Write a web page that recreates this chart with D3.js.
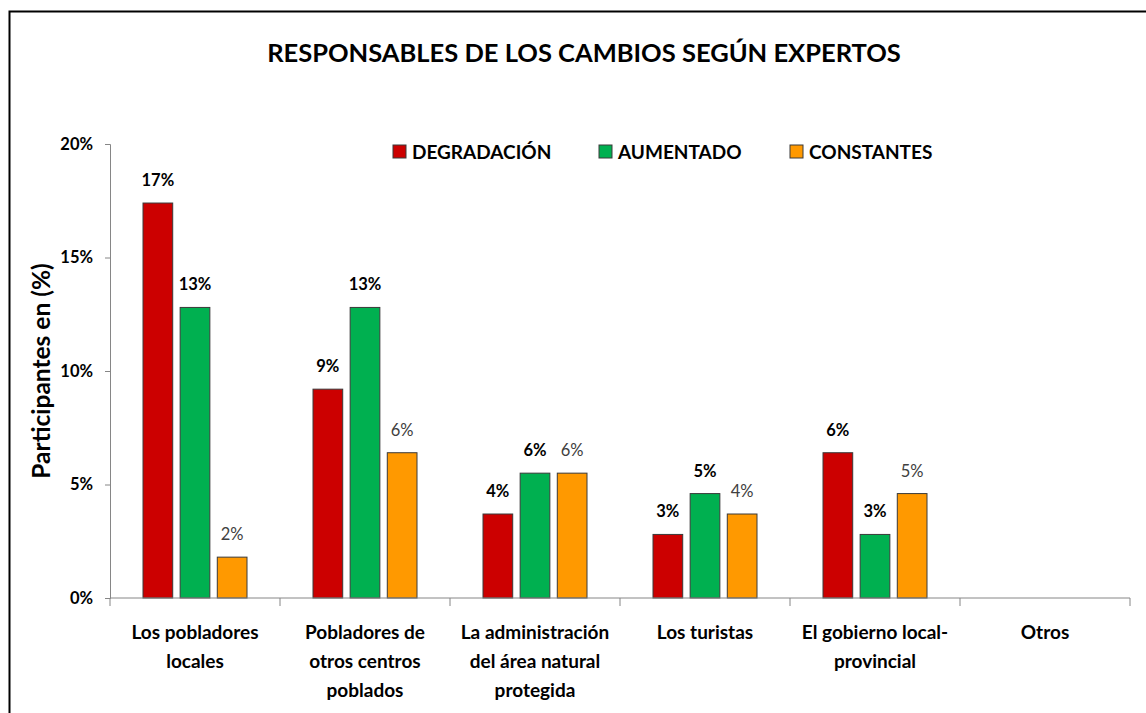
<!DOCTYPE html>
<html>
<head>
<meta charset="utf-8">
<script src="https://cdn.jsdelivr.net/npm/d3@7"></script>
<style>
  body { margin: 0; background: #fff; }
  svg text { font-family: Lato, "Open Sans", sans-serif; fill: #000; }
</style>
</head>
<body>
<svg id="chart" width="1146" height="713"></svg>
<script>
// data (percent)
var categories = [
  ["Los pobladores", "locales"],
  ["Pobladores de", "otros centros", "poblados"],
  ["La administración", "del área natural", "protegida"],
  ["Los turistas"],
  ["El gobierno local-", "provincial"],
  ["Otros"]
];
var seriesNames = ["DEGRADACIÓN", "AUMENTADO", "CONSTANTES"];
var degradacion = [17.4, 9.2, 3.7, 2.8, 6.4, 0];
var aumentado  = [12.8, 12.8, 5.5, 4.6, 2.8, 0];
var constantes = [1.8, 6.4, 5.5, 3.7, 4.6, 0];
var yTicks = [0, 5, 10, 15, 20];
var colors = ["#cc0000", "#00b050", "#ff9900"];

var series = [degradacion, aumentado, constantes];

var svg = d3.select('#chart');

// outer frame (left + top only visible)
svg.append('path')
  .attr('d', 'M9.5,713 L9.5,11.5 L1146,11.5')
  .attr('fill', 'none')
  .attr('stroke', '#000')
  .attr('stroke-width', 2);

var loc = {x: 110, y: 144, w: 1020, h: 454};

var catIdx = d3.range(categories.length);
var bandScale = d3.scaleBand()
  .domain(catIdx)
  .range([loc.x, loc.x + loc.w])
  .padding(0);

var innerScale = d3.scaleBand()
  .domain([0, 1, 2])
  .range([33, 137])
  .paddingInner(0.2);

var yScale = d3.scaleLinear()
  .domain([0, 20])
  .range([loc.y + loc.h, loc.y]);

// title
svg.append('text')
  .attr('x', 584)
  .attr('y', 62)
  .attr('text-anchor', 'middle')
  .attr('font-weight', 'bold')
  .attr('font-size', 25.5)
  .text('RESPONSABLES DE LOS CAMBIOS SEGÚN EXPERTOS');

// bars
var chart = svg.append('g').attr('class', 'chart');
for (var s in series) {
  var g = chart.append('g');
  var pts = series[s].map(function(v, i) { return {i: i, v: v}; }).filter(function(d) { return d.v > 0; });
  g.selectAll('rect')
    .data(pts)
    .enter()
    .append('rect')
    .attr('x', function(d) { return bandScale(d.i) + innerScale(+s); })
    .attr('y', function(d) { return yScale(d.v); })
    .attr('width', innerScale.bandwidth())
    .attr('height', function(d) { return yScale(0) - yScale(d.v); })
    .attr('fill', colors[s])
    .attr('stroke', '#3a3a3a')
    .attr('stroke-width', 1);

  g.selectAll('text')
    .data(pts)
    .enter()
    .append('text')
    .attr('x', function(d) { return bandScale(d.i) + innerScale(+s) + innerScale.bandwidth() / 2; })
    .attr('y', function(d) { return yScale(d.v) - 17; })
    .attr('text-anchor', 'middle')
    .attr('font-size', 16.5)
    .attr('font-weight', s == 2 ? 'normal' : 'bold')
    .style('fill', s == 2 ? '#404040' : '#000')
    .text(function(d) { return Math.round(d.v) + '%'; });
}

// y axis
var yAxis = d3.axisLeft(yScale)
  .tickValues(yTicks)
  .tickSize(5)
  .tickFormat(function(d) { return d + '%'; });
var yAxisEl = svg.append('g')
  .attr('transform', 'translate(' + loc.x + ',0)')
  .call(yAxis);
yAxisEl.select('.domain').attr('stroke', '#868686');
yAxisEl.selectAll('.tick line').attr('stroke', '#868686');
yAxisEl.selectAll('.tick text')
  .attr('x', -17)
  .attr('font-size', 16.5)
  .attr('font-weight', 'bold')
  .attr('font-family', 'Lato, sans-serif')
  .style('fill', '#000');

// x axis
var xAxisEl = svg.append('g').attr('transform', 'translate(0,' + (loc.y + loc.h) + ')');
xAxisEl.append('line')
  .attr('x1', loc.x).attr('x2', loc.x + loc.w)
  .attr('stroke', '#868686');
xAxisEl.selectAll('line.tk')
  .data(catIdx.concat([categories.length]))
  .enter()
  .append('line')
  .attr('class', 'tk')
  .attr('x1', function(d) { return d < categories.length ? bandScale(d) : loc.x + loc.w; })
  .attr('x2', function(d) { return d < categories.length ? bandScale(d) : loc.x + loc.w; })
  .attr('y1', 0).attr('y2', 8)
  .attr('stroke', '#868686');

for (var i in categories) {
  var t = svg.append('text')
    .attr('text-anchor', 'middle')
    .attr('font-size', 19)
    .attr('font-weight', 'bold');
  for (var j in categories[i]) {
    t.append('tspan')
      .attr('x', bandScale(+i) + bandScale.bandwidth() / 2)
      .attr('y', 639 + j * 29)
      .text(categories[i][j]);
  }
}

// y axis title
svg.append('text')
  .attr('transform', 'translate(50,371) rotate(-90)')
  .attr('text-anchor', 'middle')
  .attr('font-size', 24.5)
  .attr('font-weight', 'bold')
  .text('Participantes en (%)');

// legend
var legendX = [393, 599, 790];
var legend = svg.append('g').attr('id', 'legend');
legend.selectAll('rect')
  .data(seriesNames)
  .enter()
  .append('rect')
  .attr('x', function(d, i) { return legendX[i]; })
  .attr('y', 145)
  .attr('width', 13)
  .attr('height', 13)
  .attr('fill', function(d, i) { return colors[i]; })
  .attr('stroke', '#3a3a3a');
legend.selectAll('text')
  .data(seriesNames)
  .enter()
  .append('text')
  .attr('x', function(d, i) { return legendX[i] + 19; })
  .attr('y', 159)
  .attr('font-size', 19)
  .attr('font-weight', 'bold')
  .text(function(d) { return d; });
</script>
</body>
</html>
